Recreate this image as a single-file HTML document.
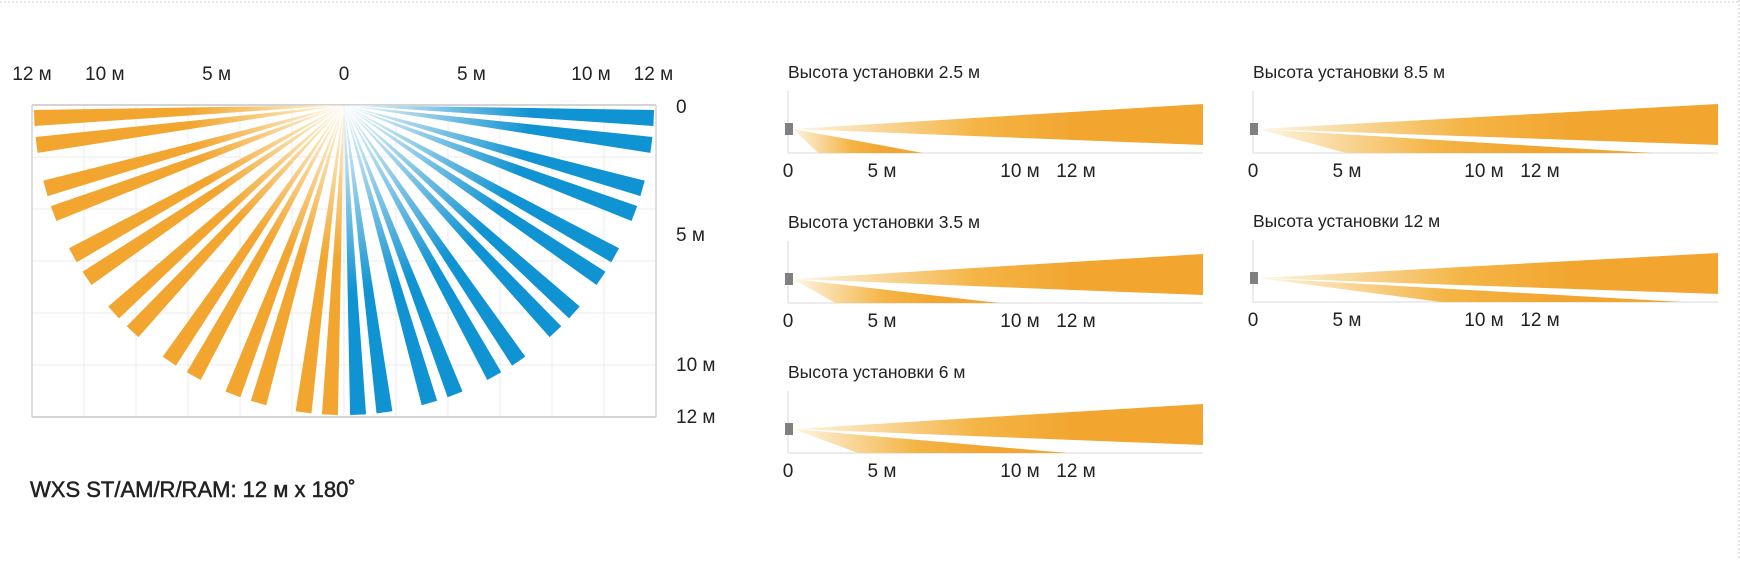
<!DOCTYPE html>
<html><head><meta charset="utf-8">
<style>
html,body{margin:0;padding:0;background:#fff;}
body{width:1740px;height:558px;overflow:hidden;position:relative;font-family:"Liberation Sans",sans-serif;}
svg text{font-family:"Liberation Sans",sans-serif;fill:#222;}
</style></head>
<body>
<svg id="root" width="1740" height="558" viewBox="0 0 1740 558" xmlns="http://www.w3.org/2000/svg">
<defs>
<radialGradient id="gOr" gradientUnits="userSpaceOnUse" cx="344" cy="105" r="312">
<stop offset="0" stop-color="#fffaf0"/><stop offset="0.12" stop-color="#fbe6b8"/><stop offset="0.5" stop-color="#f2a52f"/><stop offset="1" stop-color="#f2a52f"/></radialGradient>
<radialGradient id="gBl" gradientUnits="userSpaceOnUse" cx="344" cy="105" r="312">
<stop offset="0" stop-color="#f4fafd"/><stop offset="0.15" stop-color="#bfe0f0"/><stop offset="0.6" stop-color="#0f93d2"/><stop offset="1" stop-color="#0f93d2"/></radialGradient>
<linearGradient id="gSide" x1="0" y1="0" x2="1" y2="0">
<stop offset="0" stop-color="#fdf6e4"/><stop offset="0.45" stop-color="#f4b445"/><stop offset="0.7" stop-color="#f2a52f"/><stop offset="1" stop-color="#f2a52f"/></linearGradient>
</defs>
<line x1="0" y1="2" x2="1740" y2="2" stroke="#ccc" stroke-dasharray="2,2"/>
<line x1="1739" y1="0" x2="1739" y2="558" stroke="#ccc" stroke-dasharray="2,2"/>
<g id="fan"></g>
<g id="side"></g>
<text x="30" y="497" font-size="22" stroke="#222" stroke-width="0.5">WXS ST/AM/R/RAM:  12 м x 180˚</text>
</svg>
<script>
// Fan data: beam angles (degrees below horizontal) per side
const beamAngles = [2.4, 7.4, 15.6, 20.5, 29, 34, 42, 47, 55.7, 61, 69, 74, 82.5, 87.4];
const topTicks = ["12 м","10 м","5 м","0","5 м","10 м","12 м"];
const topTickMeters = [-12,-9.2,-4.9,0,4.9,9.5,11.9];
const sideTicks = ["0","5 м","10 м","12 м"];
const sideTickMeters = [0,5,10,12];
// Side views
const heights = ["2.5","3.5","6","8.5","12"];
const lowerNear = [1.6, 2.5, 3.7, 4.9, 9.9];
const lowerFar = [7.1, 11.1, 14.7, 21.0, 22.6];
const axisLabels = ["0","5 м","10 м","12 м"];

const NS="http://www.w3.org/2000/svg";
function mk(parent, tag, attrs, text){const e=document.createElementNS(NS,tag);for(const k in attrs)e.setAttribute(k,attrs[k]);if(text!==undefined)e.textContent=text;parent.appendChild(e);return e;}
const fan=document.getElementById('fan');
const cx=344, cy=105, R=312, pxm=26;
const X=m=>cx+m*pxm, Y=m=>cy+m*pxm;
for(let i=-6;i<=6;i++){const l=mk(fan,'line',{x1:X(i*2),y1:Y(0),x2:X(i*2),y2:Y(12),stroke:'#ebebeb','stroke-width':1});

}
for(let j=0;j<=6;j++){const l=mk(fan,'line',{x1:X(-12),y1:Y(j*2),x2:X(12),y2:Y(j*2),stroke:j==0||j==6?'#d4d4d4':'#ebebeb','stroke-width':j==0||j==6?2:1});

}
[-12,12].forEach(m=>{const l=mk(fan,'line',{x1:X(m),y1:Y(0),x2:X(m),y2:Y(12),stroke:'#d4d4d4','stroke-width':1.5});

});
const rEnd=310, hw=8;
[-1,1].forEach(side=>{beamAngles.forEach(a=>{const t=a*Math.PI/180;const dx=side*Math.cos(t),dy=Math.sin(t);
const ex=cx+dx*rEnd, ey=cy+dy*rEnd; const px=-dy, py=dx;
const p=mk(fan,'polygon',{points:`${cx},${cy} ${ex+px*hw},${ey+py*hw} ${ex-px*hw},${ey-py*hw}`,fill:side<0?'url(#gOr)':'url(#gBl)'});

});});
topTicks.forEach((s,i)=>{const t=mk(fan,'text',{x:X(topTickMeters[i]),y:80,'font-size':19,'text-anchor':'middle'},s);

});
sideTicks.forEach((s,i)=>{const t=mk(fan,'text',{x:676,y:Y(sideTickMeters[i])+(i==0?8:6),'font-size':19},s);

});
const side=document.getElementById('side');
const origins=[[788,153],[788,303],[788,453],[1253,153],[1253,302]];
const ends=[1203,1203,1203,1718,1718];
const labelX=[[788,882,1020,1076],[1253,1347,1484,1540]];
const spm=19;
heights.forEach((h,i)=>{const [ox,by]=origins[i];const g=mk(side,'g',{});


const tt=mk(g,'text',{x:ox,y:by-75,'font-size':17.5},'Высота установки '+h+' м');


const va=mk(g,'line',{x1:ox,y1:by-62,x2:ox,y2:by,stroke:'#e6e6e6','stroke-width':1.5});


const ha=mk(g,'line',{x1:ox,y1:by,x2:ends[i],y2:by,stroke:'#e6e6e6','stroke-width':1.5});


const sx=ox+5, sy=by-24;
const up=mk(g,'polygon',{points:`${sx},${sy} ${ends[i]},${by-49} ${ends[i]},${by-8}`,fill:'url(#gSide)'});


const lo=mk(g,'polygon',{points:`${sx},${sy} ${ox+lowerNear[i]*spm},${by} ${ox+lowerFar[i]*spm},${by}`,fill:'url(#gSide)'});


const sr=mk(g,'rect',{x:ox-3,y:sy-6,width:8,height:12,fill:'#808080'});


const lx=labelX[i<3?0:1];
axisLabels.forEach((s,k)=>{const t=mk(g,'text',{x:lx[k],y:by+24,'font-size':19,'text-anchor':'middle'},s);

});
});
</script>
</body></html>
